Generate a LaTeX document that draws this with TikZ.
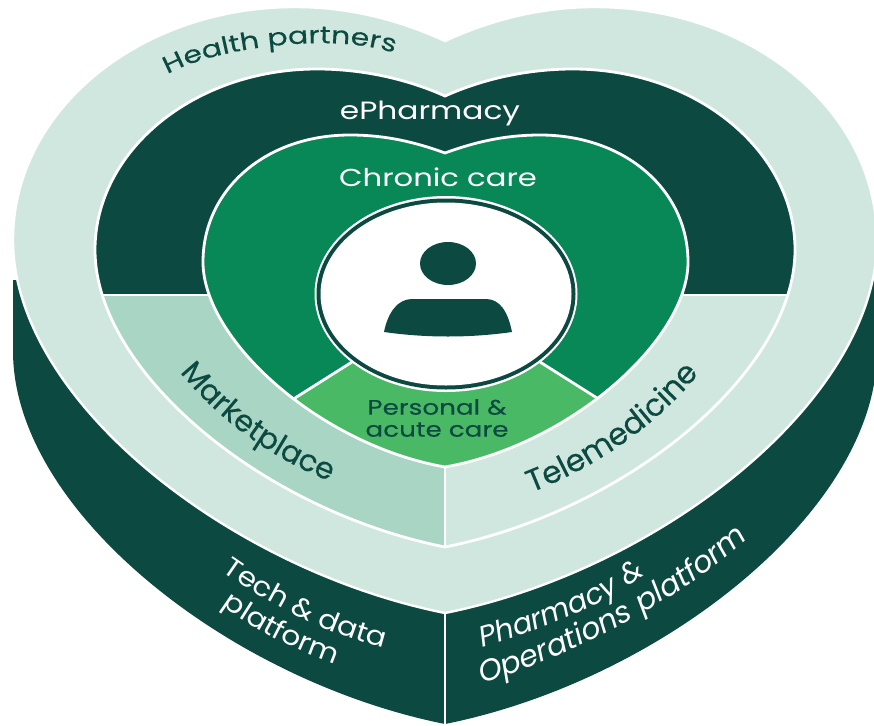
\documentclass[tikz,border=0pt]{standalone}
\usepackage{fontspec}
\setmainfont{Poppins}
\newfontfamily\ringfont[FakeStretch=1.25]{Poppins}
\newfontfamily\ringheavy[FakeStretch=1.25, FakeBold=0.25]{Poppins}
\newfontfamily\tallheavy[FakeBold=0.25]{Poppins}
\newfontfamily\tallfont[FakeStretch=1.1]{Poppins}
\usetikzlibrary{positioning, calc, decorations.text}
\definecolor{darkteal}{HTML}{0C4A41}
\definecolor{palegreen}{HTML}{D0E7DF}
\definecolor{mintgreen}{HTML}{A9D5C4}
\definecolor{midgreen}{HTML}{088757}
\definecolor{lightgreen}{HTML}{4AB966}
\newcommand{\outerheart}{(445,41) .. controls (395,18) and (345,7) .. (295,7) .. controls (140,7) and (13,110) .. (13,240) .. controls (13,400) and (230,570) .. (445,613) .. controls (660,570) and (877,400) .. (877,240) .. controls (877,110) and (750,7) .. (595,7) .. controls (545,7) and (495,18) .. (445,41) -- cycle}
\newcommand{\middleheart}{(445,96) .. controls (405,78) and (360,69) .. (317,69) .. controls (195,69) and (95,150) .. (95,250) .. controls (95,370) and (260,510) .. (445,547) .. controls (630,510) and (795,370) .. (795,250) .. controls (795,150) and (695,69) .. (573,69) .. controls (530,69) and (485,78) .. (445,96) -- cycle}
\newcommand{\innerheart}{(445,153) .. controls (415,142) and (385,135) .. (350,135) .. controls (265,135) and (203,190) .. (203,262) .. controls (203,340) and (320,445) .. (445,467) .. controls (570,445) and (688,340) .. (688,262) .. controls (688,190) and (625,135) .. (540,135) .. controls (505,135) and (475,142) .. (445,153) -- cycle}
\newcommand{\partnersize}{\ringheavy\fontsize{24}{24}\selectfont}
\newcommand{\marketsize}{\tallheavy\fontsize{30}{30}\selectfont}
\newcommand{\telesize}{\tallheavy\fontsize{31}{31}\selectfont}
\newcommand{\techsize}{\tallfont\fontsize{27}{27}\selectfont}
\newcommand{\pharmsize}{\itshape\fontsize{29}{29}\selectfont}
\newcommand{\opssize}{\itshape\fontsize{30}{30}\selectfont}
\tikzset{
  ringlabel/.style={font=\ringfont\fontsize{#1}{#1}\selectfont, align=center},
  curved/.style={decorate, decoration={text along path, text align=center, text color=#1}},
  edge/.style={white, line width=2.8pt}
}
\begin{document}
\begin{tikzpicture}[x=1pt, y=-1pt]
\clip (0,0) rectangle (874,725);
\fill[white] (0,0) rectangle (874,725);
% base and outer ring
\fill[darkteal] (13,280) -- (13,351) .. controls (13,511) and (230,681) .. (445,724) .. controls (660,681) and (877,511) .. (877,351) -- (877,280) -- cycle;
\fill[palegreen, draw=white, line width=2.4pt] \outerheart;
\draw[edge] (445,613) -- (445,725);
% middle ring
\fill[darkteal] \middleheart;
\begin{scope}
\clip \middleheart;
\fill[mintgreen] (0,295) rectangle (445,600);
\fill[palegreen] (445,295) rectangle (874,600);
\draw[edge] (0,295) -- (874,295);
\end{scope}
\draw[edge] \middleheart;
\draw[edge] (445,467) -- (445,547);
% inner ring
\fill[midgreen] \innerheart;
\begin{scope}
\clip \innerheart;
\fill[lightgreen, draw=white, line width=2.8pt] (445,300) -- (352,362) -- (295,398) -- (280,480) -- (610,480) -- (597,398) -- (540,362) -- cycle;
\end{scope}
\draw[edge] \innerheart;
% centre
\fill[white] (446,294) ellipse [x radius=131.5, y radius=98];
\fill[darkteal] (446,294) ellipse [x radius=129.5, y radius=95.5];
\fill[white] (446,294) ellipse [x radius=125.5, y radius=91.5];
\fill[darkteal] (448,263.5) ellipse [x radius=28, y radius=21.5];
\fill[darkteal] (384,332) .. controls (388,312) and (398,299) .. (412,299) -- (486,299) .. controls (500,299) and (508,312) .. (512,332) .. controls (470,338) and (426,338) .. (384,332) -- cycle;
% labels
\node[ringlabel=25, white] (epharmacy) at (430,113) {ePharmacy};
\node[ringlabel=24.5, white] (chronic) at (438,177) {Chronic care};
\node[ringlabel=21, darkteal, font=\ringheavy\fontsize{21}{22}\selectfont] (personal) at (437,418) {Personal \&\\acute care};
\path[curved=darkteal, decoration={text={|\partnersize|Health partners}}] (165,76) .. controls (205,50) and (330,30) .. (397,54);
\path[curved=darkteal, decoration={text={|\marketsize|Marketplace}}] (175,366) .. controls (215,418) and (272,460) .. (337,484);
\path[curved=darkteal, decoration={text={|\telesize|Telemedicine}}] (530,493) .. controls (595,468) and (658,425) .. (700,372);
\path[curved=white, decoration={text={|\techsize|Tech {\&} data}}] (222,571) .. controls (270,605) and (325,633) .. (384,648);
\path[curved=white, decoration={text={|\techsize|platform}}] (222,606) .. controls (255,630) and (295,650) .. (335,664);
\path[curved=white, decoration={text={|\pharmsize|Pharmacy {\&}}}] (483,647) .. controls (535,632) and (595,610) .. (645,575);
\path[curved=white, decoration={text={|\opssize|Operations platform}}] (480,684) .. controls (575,655) and (680,600) .. (750,537);
\end{tikzpicture}
\end{document}
